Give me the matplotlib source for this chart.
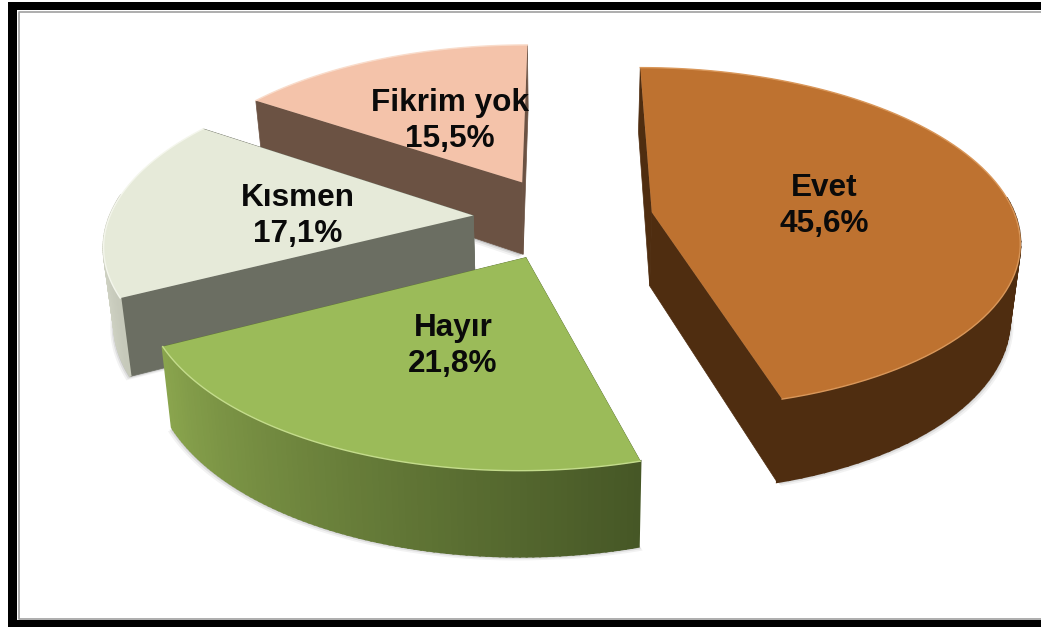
#!/bin/env python

import numpy as np
import matplotlib
matplotlib.use('Agg')
import matplotlib.pyplot as plt
from matplotlib.colors import to_rgb

# values
categories = ['Evet', 'Hayır', 'Kısmen', 'Fikrim yok']
shares = [45.6, 21.8, 17.1, 15.5]

top_colors = ['#BE7230', '#9BBB59', '#E6EAD9', '#F4C3AA']
face_colors = ['#4F2D10', '#5F7536', '#6B6E62', '#6B5243']
rim_left = ['#4F2D10', '#8BA64E', '#D5D8C9', '#8A6A58']
rim_right = ['#4F2D10', '#465726', '#B9BCAE', '#8A6A58']
edge_colors = ['#D9975A', '#C4DC8C', '#F4F6EC', '#F9DCCB']
label_xy = [(824, 206), (453, 346), (298, 216), (450, 121)]

# drawing order, back slices first
draw_order = [3, 2, 0, 1]

# perspective set up, pixels of the picture
cx, cy = 563.0, 218.0
A, B, p = 364.0, 168.0, 0.15
explode = 0.2475
start_deg = 0.0
depth = 74.0


def project(X, Y):
    w = 1 + p * Y
    return cx + A * X / w, cy - B * Y / w


def drop(sx, sy, Y):
    h = depth * (1 - 0.13 * Y)
    return cx + (sx - cx) * 0.977, sy + h


plt.rcParams['font.family'] = ['Liberation Sans', 'DejaVu Sans']

fig = plt.figure(figsize=(10.41, 6.27), dpi=100, facecolor='white')
ax = fig.add_axes([0, 0, 1, 1])
ax.set_xlim(0, 1041)
ax.set_ylim(627, 0)
ax.axis('off')

# frame: black on the left, top and bottom only, grey line just inside
ax.fill([8, 1041, 1041, 8], [2, 2, 10, 10], color='black', lw=0, zorder=0)
ax.fill([8, 17, 17, 8], [2, 2, 627, 627], color='black', lw=0, zorder=0)
ax.fill([8, 1041, 1041, 8], [620, 620, 627, 627], color='black', lw=0, zorder=0)
ax.plot([1041, 19, 19, 1041], [12, 12, 619, 619], color='#A0A0A0', lw=1.2, zorder=0.5)

fractions = np.array(shares) / 100.0
ends = np.radians(start_deg + 360 * np.cumsum(fractions))
starts = np.concatenate(([np.radians(start_deg)], ends[:-1]))

for i in draw_order:
    a = np.linspace(starts[i], ends[i], 90)
    mid = (starts[i] + ends[i]) / 2
    ox, oy = explode * np.sin(mid), explode * np.cos(mid)

    X = ox + np.sin(a)
    Y = oy + np.cos(a)
    sx, sy = project(X, Y)
    bx, by = drop(sx, sy, Y)
    ax0, ay0 = project(ox, oy)
    ax1, ay1 = drop(ax0, ay0, oy)

    z = 1.1 + draw_order.index(i)

    # soft shadow under the slice
    for off, al in [(4, 0.05), (2.5, 0.08), (1.2, 0.12)]:
        ring_x = np.concatenate(([ax1], bx))
        ring_y = np.concatenate(([ay1], by))
        ax.fill(ring_x + off * np.sign(ring_x - cx), ring_y + off,
                color='black', alpha=al, lw=0, zorder=z - 0.1)

    # the two cut faces
    for k in [0, -1]:
        ax.fill([ax0, sx[k], bx[k], ax1], [ay0, sy[k], by[k], ay1],
                color=face_colors[i], lw=0.5, zorder=z)

    # outer wall, only the part that faces the viewer
    c0, c1 = np.array(to_rgb(rim_left[i])), np.array(to_rgb(rim_right[i]))
    left_to_right = np.argsort(np.argsort(sx)) / (len(sx) - 1.0)
    for j in np.argsort(-Y[:-1]):
        if np.cos(a[j]) > 0.12:
            continue
        col = c0 + (c1 - c0) * left_to_right[j]
        ax.fill([sx[j], sx[j + 1], bx[j + 1], bx[j]], [sy[j], sy[j + 1], by[j + 1], by[j]],
                color=col, lw=1.6, zorder=z + 0.1)

    # top of the slice
    ax.fill(np.concatenate(([ax0], sx)), np.concatenate(([ay0], sy)),
            color=top_colors[i], lw=0, zorder=z + 0.2)
    ax.plot(sx, sy, color=edge_colors[i], lw=1.0, zorder=z + 0.3)

    txt = categories[i] + '\n' + ('%.1f' % shares[i]).replace('.', ',') + '%'
    ax.text(label_xy[i][0], label_xy[i][1], txt, ha='center', va='center', fontsize=22.7,
            fontweight='bold', color='#0A0A0A', linespacing=1.25, zorder=20)

fig.savefig('out.png', dpi=100)
